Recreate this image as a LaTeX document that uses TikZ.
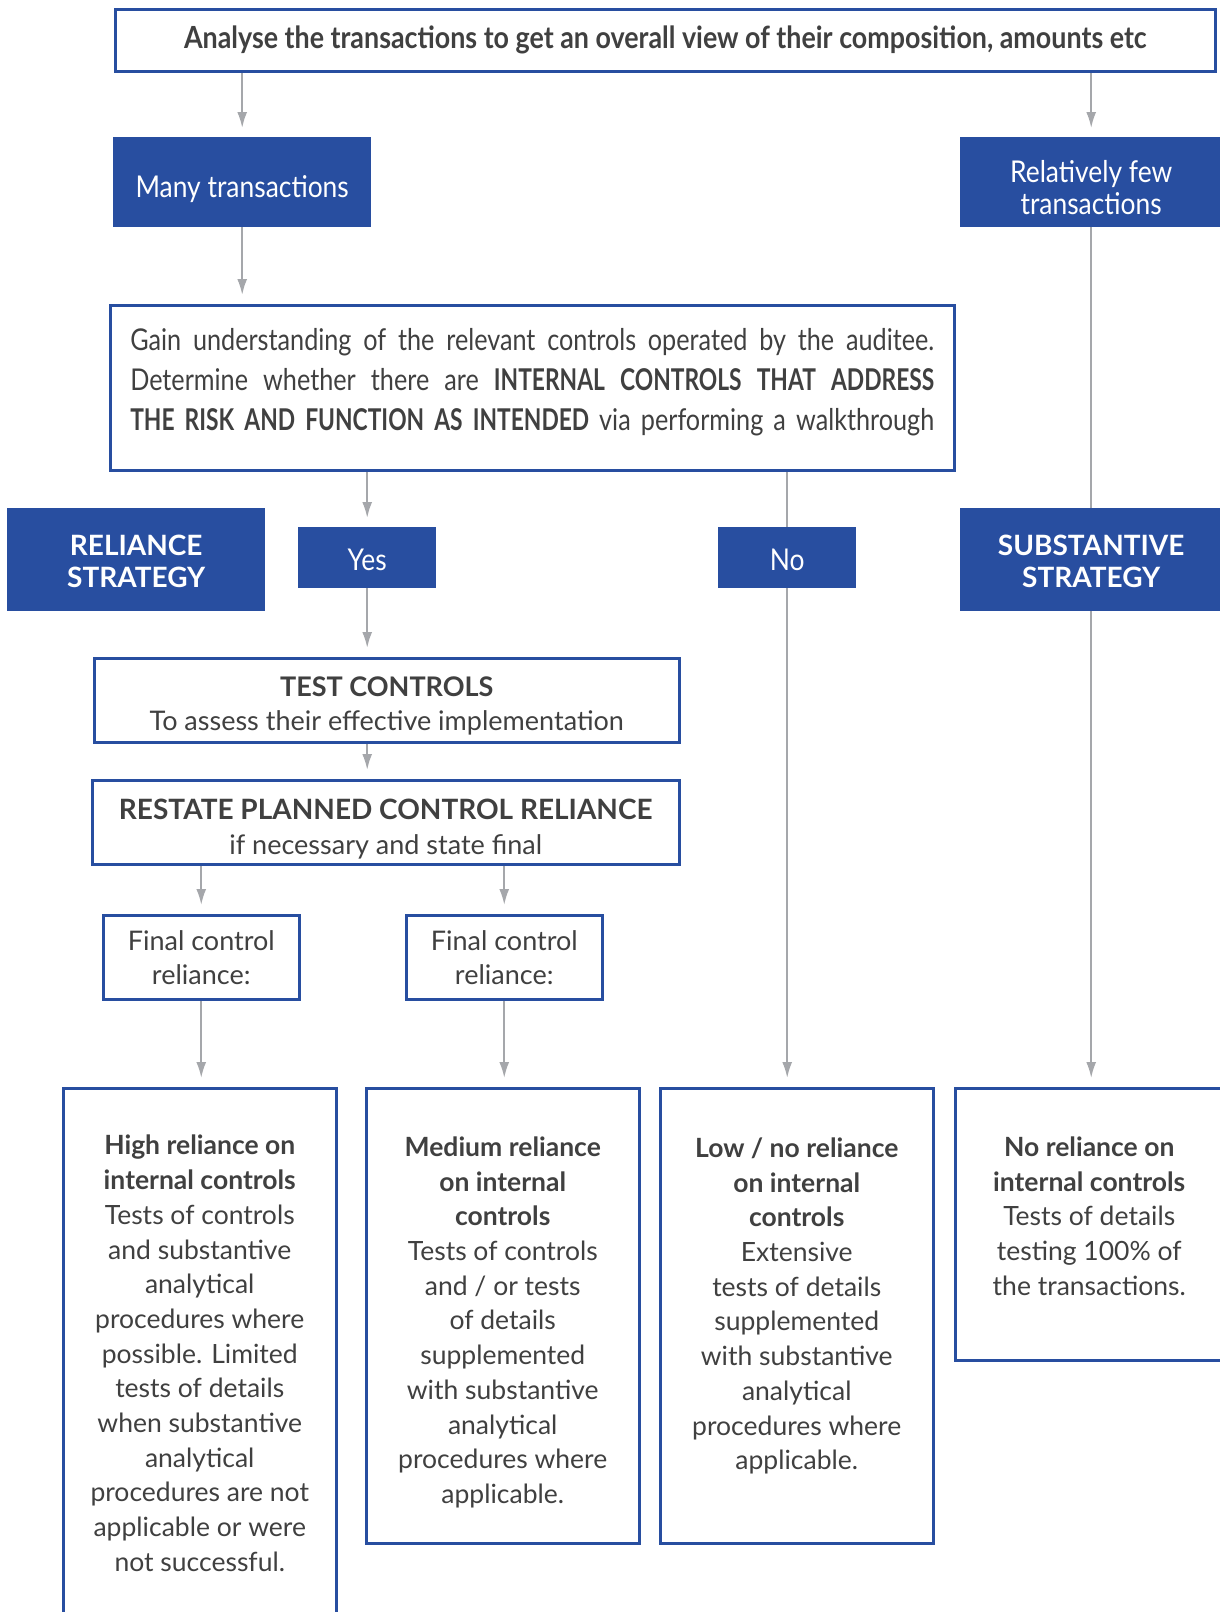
\documentclass[tikz,border=0pt]{standalone}
\usepackage{fontspec}
\setmainfont{Lato}
\newfontfamily\cond{Lato}[FakeStretch=0.88]
\newfontfamily\condx{Lato}[FakeStretch=0.84, BoldFeatures={FakeStretch=0.76}]
\usetikzlibrary{arrows.meta,backgrounds}
\definecolor{cblue}{HTML}{284EA0}
\definecolor{ctext}{HTML}{404040}
\definecolor{carrow}{HTML}{A5A7AB}
\newcommand\tbx[3]{\parbox[c][#1][t]{#2}{\centering #3}}
\newcommand\fline[1]{\makebox[804pt][s]{\spaceskip=0.25em plus 1fil minus 0.12em\relax #1}}
\newcommand\lowr[2]{\raisebox{-#1}[\height][\depth]{#2}}
\tikzset{
  obox/.style={draw=cblue, line width=2.5pt, fill=white, inner sep=0pt, anchor=north west, text=ctext, align=center},
  fbox/.style={fill=cblue, inner sep=0pt, anchor=north west, text=white, align=center},
  arr/.style={draw=carrow, line width=2pt, -{Latex[length=16pt,width=10pt]}, shorten >=9pt},
  body/.style={font=\fontsize{26.5}{34.7}\selectfont},
}
\begin{document}
\begin{tikzpicture}[x=1pt,y=-1pt]
\useasboundingbox (0,0) rectangle (1220,1612);
\node[obox, minimum width=1100pt, minimum height=62pt] (top) at (114,8)
  {\cond\bfseries\fontsize{30.5}{34}\selectfont Analyse the transactions to get an overall view of their composition, amounts etc};
\node[fbox, minimum width=258pt, minimum height=90pt, font=\cond\fontsize{30}{32}\selectfont] (many) at (113,137) {\lowr{7pt}{Many transactions}};
\node[fbox, minimum width=262pt, minimum height=90pt, font=\cond\fontsize{30}{32}\selectfont] (few) at (960,137) {\rule{0pt}{32pt}Relatively few\\transactions};
\node[obox, minimum width=844pt, minimum height=165pt, text width=804pt, align=left, font=\condx\fontsize{30}{40}\selectfont] (gain) at (109,304)
  {\fline{Gain understanding of the relevant controls operated by the auditee.}\\
   \fline{Determine whether there are \textbf{INTERNAL CONTROLS THAT ADDRESS}}\\
   \fline{\textbf{THE RISK AND FUNCTION AS INTENDED} via performing a walkthrough}\rule[-17pt]{0pt}{0pt}};
\node[fbox, minimum width=258pt, minimum height=103pt, font=\bfseries\fontsize{28}{32}\selectfont] (rel) at (7,508) {\rule{0pt}{24pt}RELIANCE\\STRATEGY};
\node[fbox, minimum width=138pt, minimum height=61pt, font=\cond\fontsize{30}{32}\selectfont] (yes) at (298,527) {\lowr{2pt}{Yes}};
\node[fbox, minimum width=138pt, minimum height=61pt, font=\cond\fontsize{30}{32}\selectfont] (no) at (718,527) {\lowr{2pt}{No}};
\node[fbox, minimum width=262pt, minimum height=103pt, font=\bfseries\fontsize{28}{32}\selectfont] (subst) at (960,508) {\rule{0pt}{24pt}SUBSTANTIVE\\STRATEGY};
\node[obox, minimum width=585pt, minimum height=84pt, font=\fontsize{27}{34}\selectfont] (test) at (93,657)
  {\rule{0pt}{32pt}\textbf{TEST CONTROLS}\\To assess their effective implementation};
\node[obox, minimum width=587pt, minimum height=84pt, font=\fontsize{27}{35}\selectfont] (restate) at (91,779)
  {\rule{0pt}{34pt}\textbf{\fontsize{28}{35}\selectfont RESTATE PLANNED CONTROL RELIANCE}\\if necessary and state final};
\node[obox, minimum width=196pt, minimum height=84pt, font=\fontsize{27}{34}\selectfont] (f1) at (102,914) {Final control\\reliance:};
\node[obox, minimum width=196pt, minimum height=84pt, font=\fontsize{27}{34}\selectfont] (f2) at (405,914) {Final control\\reliance:};
\node[obox, body, minimum width=273pt, minimum height=600pt] (high) at (62,1087)
  {\tbx{506pt}{270pt}{\textbf{High reliance on}\\\textbf{internal controls}\\Tests of controls\\and substantive\\analytical\\procedures where\\possible. Limited\\tests of details\\when substantive\\analytical\\procedures are not\\applicable or were\\not successful.}};
\node[obox, body, minimum width=273pt, minimum height=455pt] (med) at (365,1087)
  {\tbx{358pt}{270pt}{\textbf{Medium reliance}\\\textbf{on internal}\\\textbf{controls}\\Tests of controls\\and / or tests\\of details\\supplemented\\with substantive\\analytical\\procedures where\\applicable.}};
\node[obox, body, minimum width=273pt, minimum height=455pt] (low) at (659,1087)
  {\tbx{356pt}{270pt}{\textbf{Low / no reliance}\\\textbf{on internal}\\\textbf{controls}\\Extensive\\tests of details\\supplemented\\with substantive\\analytical\\procedures where\\applicable.}};
\node[obox, body, minimum width=268pt, minimum height=272pt] (nore) at (954,1087)
  {\tbx{175pt}{265pt}{\textbf{No reliance on}\\\textbf{internal controls}\\Tests of details\\testing 100\% of\\the transactions.}};
\begin{scope}[on background layer]
\draw[arr] (many.north |- top.south) -- (many.north);
\draw[arr] (few.north |- top.south) -- (few.north);
\draw[arr] (many.south) -- (many.south |- gain.north);
\draw[arr] (few.south) -- (few.south |- nore.north);
\draw[arr] (yes.north |- gain.south) -- (yes.north);
\draw[arr] (no.north |- gain.south) -- (no.north |- low.north);
\draw[arr] (yes.south) -- (yes.south |- test.north);
\draw[arr] (yes.south |- test.south) -- (yes.south |- restate.north);
\draw[arr] (f1.north |- restate.south) -- (f1.north);
\draw[arr] (f2.north |- restate.south) -- (f2.north);
\draw[arr] (f1.south) -- (f1.south |- high.north);
\draw[arr] (f2.south) -- (f2.south |- med.north);
\end{scope}
\end{tikzpicture}
\end{document}
